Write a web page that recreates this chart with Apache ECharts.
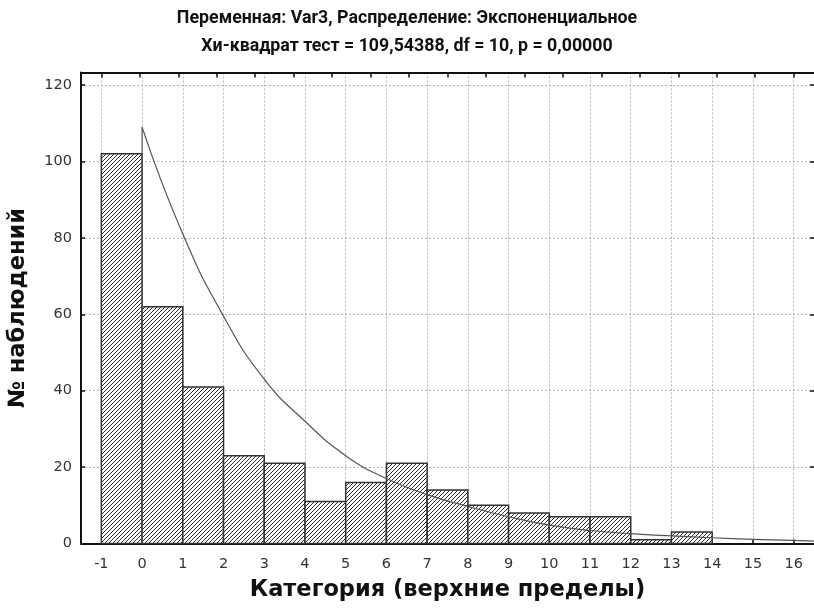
<!DOCTYPE html>
<html>
<head>
<meta charset="utf-8">
<script src="https://cdn.jsdelivr.net/npm/echarts@6/dist/echarts.min.js"></script>
<style>
  html, body { margin: 0; padding: 0; background: #fff; }
  #chart { width: 814px; height: 608px; }
</style>
</head>
<body>
<div id="chart"></div>
<script>
// histogram bins (upper limits on the axis) and observed counts
const binStart = [-1, 0, 1, 2, 3, 4, 5, 6, 7, 8, 9, 10, 11, 12, 13, 14, 15];
const binEnd = [0, 1, 2, 3, 4, 5, 6, 7, 8, 9, 10, 11, 12, 13, 14, 15, 16];
const observed = [102, 62, 41, 23, 21, 11, 16, 21, 14, 10, 8, 7, 7, 1, 3, 0, 0];

// expected (exponential) curve
const riserX = [0, 0];
const riserY = [0, 109];
const curveX = [0, 1, 2, 3, 4, 5, 6, 7, 8, 9, 10, 11, 12, 13, 14, 15, 16, 16.5];
const curveY = [109, 81, 59.5, 43, 32, 23, 17, 12.8, 9.7, 7, 4.8, 3.4, 2.6, 2, 1.5, 1.1, 0.8, 0.6];

const xTicks = [-1, 0, 1, 2, 3, 4, 5, 6, 7, 8, 9, 10, 11, 12, 13, 14, 15, 16];
const yTicks = [0, 20, 40, 60, 80, 100, 120];

function makeHatch() {
    const c = document.createElement('canvas');
    c.width = 4;
    c.height = 4;
    const ctx = c.getContext('2d');
    ctx.fillStyle = '#ffffff';
    ctx.fillRect(0, 0, 4, 4);
    ctx.fillStyle = '#2b2b2b';
    for (let i = 0; i < 4; i++) {
        ctx.fillRect(i, 3 - i, 1, 1);
    }
    return c;
}
const hatch = makeHatch();

const bins = binStart.map((s, i) => [s, binEnd[i], observed[i]]);
const pairs = (xs, ys) => xs.map((x, i) => [x, ys[i]]);

// plot frame spans -1.5 .. 16.5; tick axes live in a second grid from -1 to 16
const plotLeft = 81, plotWidth = 733, plotTop = 72.5, plotBottom = 64.5;
const unit = plotWidth / 18;

const labelFont = { fontFamily: 'DejaVu Sans', fontSize: 14.5, color: '#333' };
const dotted = { show: true, lineStyle: { color: '#b5b5b5', type: [2, 2], width: 1 } };
const frame = { show: true, onZero: false, lineStyle: { color: '#111', width: 2 } };
const tickIn = len => ({ show: true, inside: true, length: len, lineStyle: { color: '#111', width: 1.5 } });
const nameFont = { fontFamily: 'DejaVu Sans', fontWeight: 'bold', fontSize: 22.5, color: '#111' };

const chart = echarts.init(document.getElementById('chart'));
chart.setOption({
    animation: false,
    backgroundColor: '#fff',
    title: {
        text: 'Переменная: Var3, Распределение: Экспоненциальное\nХи-квадрат тест = 109,54388, df = 10, p = 0,00000',
        left: 'center',
        top: 0,
        textStyle: {
            fontFamily: 'Roboto, sans-serif',
            fontWeight: 'bold',
            fontSize: 17.8,
            lineHeight: 28,
            align: 'center',
            color: '#111'
        }
    },
    grid: [
        { left: plotLeft, top: plotTop, width: plotWidth, bottom: plotBottom, outerBoundsMode: 'none' },
        { left: plotLeft + unit * 0.5, top: plotTop, width: unit * 17, bottom: plotBottom, outerBoundsMode: 'none' }
    ],
    xAxis: [{
        type: 'value',
        gridIndex: 0,
        position: 'bottom',
        min: -1.5,
        max: 16.5,
        name: 'Категория (верхние пределы)',
        nameLocation: 'middle',
        nameGap: 35,
        nameTextStyle: nameFont,
        axisLine: frame,
        axisTick: { show: false },
        axisLabel: { show: false },
        splitLine: { show: false }
    }, {
        type: 'value',
        gridIndex: 0,
        position: 'top',
        min: -1.5,
        max: 16.5,
        axisLine: frame,
        axisTick: { show: false },
        axisLabel: { show: false },
        splitLine: { show: false }
    }, {
        type: 'value',
        gridIndex: 1,
        position: 'bottom',
        min: -1,
        max: 16,
        interval: 1,
        axisLine: { show: false, onZero: false },
        axisTick: tickIn(4),
        axisLabel: Object.assign({
            margin: 13,
            formatter: v => (xTicks.indexOf(v) >= 0 ? String(v) : '')
        }, labelFont),
        splitLine: dotted
    }, {
        type: 'value',
        gridIndex: 1,
        position: 'top',
        min: 0,
        max: 18,
        interval: 1,
        axisLine: { show: false, onZero: false },
        axisTick: tickIn(5),
        axisLabel: { show: false },
        splitLine: { show: false }
    }],
    yAxis: [{
        type: 'value',
        gridIndex: 0,
        position: 'left',
        min: 0,
        max: 123.3,
        interval: 20,
        name: '№ наблюдений',
        nameLocation: 'middle',
        nameGap: 51,
        nameTextStyle: nameFont,
        axisLine: frame,
        axisTick: tickIn(4),
        axisLabel: Object.assign({
            margin: 9,
            showMaxLabel: false,
            formatter: v => (yTicks.indexOf(v) >= 0 ? String(v) : '')
        }, labelFont),
        splitLine: dotted
    }, {
        type: 'value',
        gridIndex: 0,
        position: 'right',
        min: 0,
        max: 123.3,
        interval: 20,
        axisLine: { show: false, onZero: false },
        axisTick: tickIn(4),
        axisLabel: { show: false },
        splitLine: { show: false }
    }, {
        type: 'value',
        gridIndex: 1,
        min: 0,
        max: 1,
        show: false
    }],
    series: [{
        name: 'Наблюдаемые',
        type: 'custom',
        xAxisIndex: 0,
        yAxisIndex: 0,
        data: bins,
        encode: { x: [0, 1], y: 2 },
        renderItem: function (params, api) {
            if (api.value(2) <= 0) {
                return null;
            }
            const topLeft = api.coord([api.value(0), api.value(2)]);
            const bottomRight = api.coord([api.value(1), 0]);
            return {
                type: 'rect',
                shape: {
                    x: topLeft[0],
                    y: topLeft[1],
                    width: bottomRight[0] - topLeft[0],
                    height: bottomRight[1] - topLeft[1]
                },
                style: {
                    fill: { image: hatch, repeat: 'repeat' },
                    stroke: '#333',
                    lineWidth: 1.5
                }
            };
        }
    }, {
        name: 'riser',
        type: 'line',
        xAxisIndex: 0,
        yAxisIndex: 0,
        data: pairs(riserX, riserY),
        symbol: 'none',
        lineStyle: { color: '#555', width: 1.2 }
    }, {
        name: 'Ожидаемые',
        type: 'line',
        xAxisIndex: 0,
        yAxisIndex: 0,
        data: pairs(curveX, curveY),
        smooth: true,
        symbol: 'none',
        lineStyle: { color: '#555', width: 1.2 }
    }]
});
</script>
</body>
</html>
